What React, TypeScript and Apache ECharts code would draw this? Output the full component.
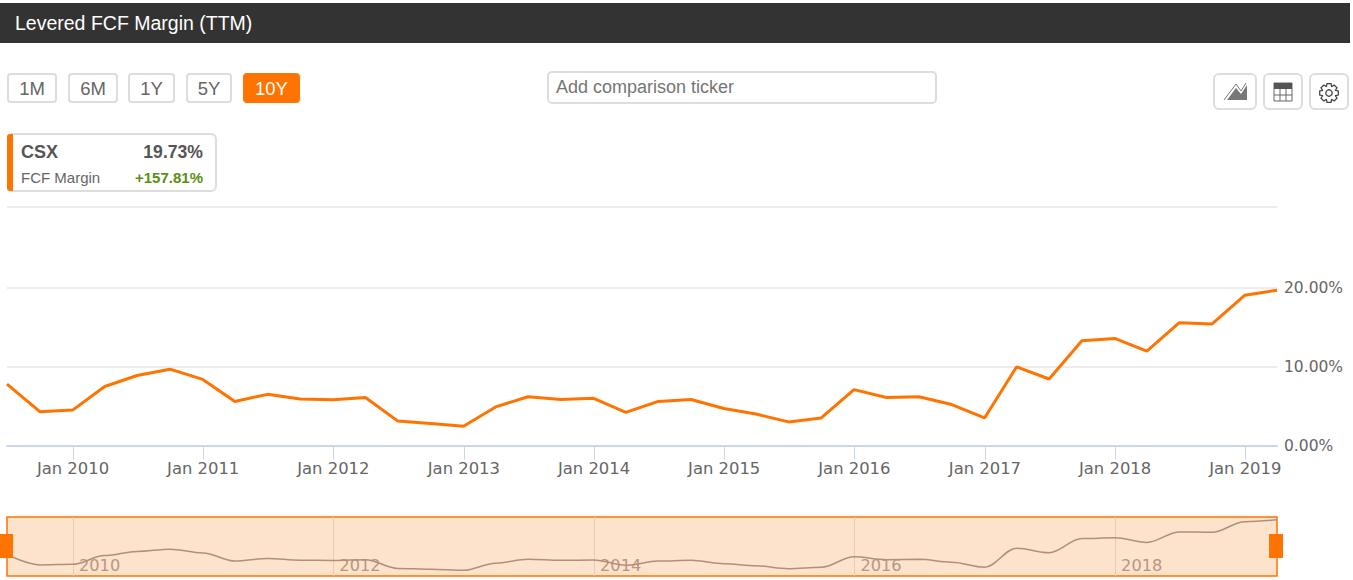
import React, { useEffect, useRef } from "react";
import * as echarts from "echarts";

const quarters = [
  "2009-06-30","2009-09-30","2009-12-31",
  "2010-03-31","2010-06-30","2010-09-30","2010-12-31",
  "2011-03-31","2011-06-30","2011-09-30","2011-12-31",
  "2012-03-31","2012-06-30","2012-09-30","2012-12-31",
  "2013-03-31","2013-06-30","2013-09-30","2013-12-31",
  "2014-03-31","2014-06-30","2014-09-30","2014-12-31",
  "2015-03-31","2015-06-30","2015-09-30","2015-12-31",
  "2016-03-31","2016-06-30","2016-09-30","2016-12-31",
  "2017-03-31","2017-06-30","2017-09-30","2017-12-31",
  "2018-03-31","2018-06-30","2018-09-30","2018-12-31",
  "2019-03-31",
];
const fcfMargin = [
  7.8,4.3,4.5,
  7.5,8.9,9.7,8.4,
  5.6,6.5,5.9,5.8,
  6.1,3.1,2.8,2.45,
  4.9,6.2,5.85,6.0,
  4.2,5.6,5.85,4.7,
  4.0,3.0,3.5,7.1,
  6.1,6.2,5.2,3.5,
  10.0,8.45,13.3,13.6,
  12.0,15.6,15.45,19.1,
  19.73,
];
const yearTicks = [2010,2011,2012,2013,2014,2015,2016,2017,2018,2019];
const navYearTicks = [2010,2012,2014,2016,2018];
const yLabelValues = [0,10,20];
const yLineValues = [0,10,20,30.37];
const rangeButtons = ["1M","6M","1Y","5Y","10Y"];
const buttonBoxes = [[7,50],[68,50],[128,47],[186,46],[243,57]];
const ORANGE = "#ff7300";

const jan1 = (y: number) => Date.UTC(y, 0, 1);
const ts = (s: string) => new Date(s + "T00:00:00Z").getTime();
const sans = "'Liberation Sans', Arial, sans-serif";
const axisFont = "'DejaVu Sans', sans-serif";

function gearPoints(cx: number, cy: number, teeth: number, ro: number, ri: number) {
  const pts: number[][] = [];
  const step = (Math.PI * 2) / teeth;
  for (let i = 0; i < teeth; i++) {
    const a = i * step;
    [[-0.3, ri], [-0.17, ro], [0.17, ro], [0.3, ri]].forEach(([o, r]) => {
      pts.push([cx + r * Math.cos(a + o * step * 1.6), cy + r * Math.sin(a + o * step * 1.6)]);
    });
  }
  return pts;
}

function buildGraphics() {
  const els: any[] = [];
  // title bar
  els.push({ type: "rect", shape: { x: 0, y: 3, width: 1350, height: 40 }, style: { fill: "#333333" } });
  els.push({ type: "text", x: 15, y: 23, style: { text: "Levered FCF Margin (TTM)", fill: "#ffffff", font: `19.5px ${sans}`, textVerticalAlign: "middle" } });
  // range buttons
  rangeButtons.forEach((b, i) => {
    const [x, w] = buttonBoxes[i];
    const active = b === "10Y";
    els.push({ type: "rect", shape: { x: x + 1, y: 74, width: w - 2, height: 28, r: 3 }, style: { fill: active ? ORANGE : "#fff", stroke: active ? ORANGE : "#dddddd", lineWidth: 2 } });
    els.push({ type: "text", x: x + w / 2, y: 88, style: { text: b, fill: active ? "#fff" : "#666666", font: `18.5px ${sans}`, textAlign: "center", textVerticalAlign: "middle" } });
  });
  // input
  els.push({ type: "rect", shape: { x: 548, y: 72, width: 388, height: 31, r: 4 }, style: { fill: "#fff", stroke: "#dddddd", lineWidth: 2 } });
  els.push({ type: "text", x: 556, y: 87, style: { text: "Add comparison ticker", fill: "#757575", font: `18px ${sans}`, textVerticalAlign: "middle" } });
  // tool buttons
  [[1214,42],[1264,38],[1310,38]].forEach(([x, w]) => {
    els.push({ type: "rect", shape: { x, y: 74, width: w, height: 35, r: 5 }, style: { fill: "#fff", stroke: "#dddddd", lineWidth: 2 } });
  });
  els.push({ type: "polygon", shape: { points: [[1227,100],[1236,88],[1241,94],[1247,85],[1247,100]] }, style: { fill: "#777777" } });
  els.push({ type: "polyline", shape: { points: [[1224,100],[1236,84],[1241,91],[1246,83]] }, style: { fill: "none", stroke: "#777777", lineWidth: 1 } });
  els.push({ type: "rect", shape: { x: 1274, y: 83, width: 18, height: 18 }, style: { fill: "#fff", stroke: "#666666", lineWidth: 1 } });
  els.push({ type: "rect", shape: { x: 1274, y: 83, width: 18, height: 6 }, style: { fill: "#555555" } });
  [1280, 1286].forEach((x) => els.push({ type: "line", shape: { x1: x, y1: 89, x2: x, y2: 101 }, style: { stroke: "#666666", lineWidth: 1 } }));
  [95].forEach((y) => els.push({ type: "line", shape: { x1: 1274, y1: y, x2: 1292, y2: y }, style: { stroke: "#666666", lineWidth: 1 } }));
  els.push({ type: "polygon", shape: { points: gearPoints(1329, 93, 8, 9.5, 7) }, style: { fill: "#fff", stroke: "#444444", lineWidth: 1.3 } });
  els.push({ type: "circle", shape: { cx: 1329, cy: 93, r: 3.2 }, style: { fill: "#fff", stroke: "#444444", lineWidth: 1.3 } });
  // value card
  els.push({ type: "rect", shape: { x: 8, y: 134, width: 208, height: 57, r: 5 }, style: { fill: "#fff", stroke: "#dddddd", lineWidth: 2 } });
  els.push({ type: "rect", shape: { x: 7, y: 134, width: 6, height: 57, r: [3,0,0,3] }, style: { fill: ORANGE } });
  els.push({ type: "text", x: 21, y: 152, style: { text: "CSX", fill: "#555555", font: `bold 18px ${sans}`, textVerticalAlign: "middle" } });
  els.push({ type: "text", x: 203, y: 152, style: { text: "19.73%", fill: "#555555", font: `bold 17.6px ${sans}`, textAlign: "right", textVerticalAlign: "middle" } });
  els.push({ type: "text", x: 21, y: 177.5, style: { text: "FCF Margin", fill: "#666666", font: `15px ${sans}`, textVerticalAlign: "middle" } });
  els.push({ type: "text", x: 203, y: 177.5, style: { text: "+157.81%", fill: "#5b8f12", font: `bold 15px ${sans}`, textAlign: "right", textVerticalAlign: "middle" } });
  // navigator handles
  els.push({ type: "rect", z: 20, shape: { x: 0, y: 534, width: 13, height: 24 }, style: { fill: ORANGE } });
  els.push({ type: "rect", z: 20, shape: { x: 1269, y: 534, width: 14, height: 24 }, style: { fill: ORANGE } });
  return els;
}

export default function App() {
  const ref = useRef<HTMLDivElement>(null);
  useEffect(() => {
    document.body.style.margin = "0";
    const chart = echarts.init(ref.current!, undefined, { renderer: "svg" });
    const seriesData = quarters.map((q, i) => [ts(q), fcfMargin[i]]);
    const xMin = ts(quarters[0]);
    const xMax = ts(quarters[quarters.length - 1]);
    chart.setOption({
      animation: false,
      backgroundColor: "#ffffff",
      grid: [
        { left: 7, right: 76, top: 206.5, height: 239 },
        { left: 7, right: 76, top: 517, height: 59, show: true, backgroundColor: "#fde2cc", borderColor: ORANGE, borderWidth: 1.5 },
      ],
      xAxis: [
        {
          type: "value", gridIndex: 0, min: xMin, max: xMax, scale: true,
          axisLine: { show: true, lineStyle: { color: "#ccd6eb", width: 2 } },
          axisTick: { show: true, length: 14, lineStyle: { color: "#ccd6eb", width: 1 }, customValues: yearTicks.map(jan1) },
          axisLabel: {
            customValues: yearTicks.map(jan1),
            formatter: (v: number) => `Jan ${new Date(v).getUTCFullYear()}`,
            color: "#666666", fontFamily: axisFont, fontSize: 16.4, margin: 15, hideOverlap: false,
          },
          splitLine: { show: false },
        },
        {
          type: "value", gridIndex: 1, min: xMin, max: xMax, scale: true,
          axisLine: { show: false },
          axisTick: { show: false, customValues: navYearTicks.map(jan1) },
          axisLabel: {
            inside: true, customValues: navYearTicks.map(jan1),
            formatter: (v: number) => `${new Date(v).getUTCFullYear()}`,
            color: "#b8977e", fontFamily: axisFont, fontSize: 16.2, margin: 3, align: "left", padding: [0, 0, 0, 6],
          },
          splitLine: { show: true, lineStyle: { color: "#e6cdb8", width: 1 } },
        },
      ],
      yAxis: [
        {
          type: "value", gridIndex: 0, position: "right", min: 0, max: 30.37,
          axisLine: { show: false },
          axisTick: { show: false, customValues: yLineValues },
          axisLabel: {
            customValues: yLabelValues,
            formatter: (v: number) => `${v.toFixed(2)}%`,
            color: "#666666", fontFamily: axisFont, fontSize: 15.5, margin: 7, padding: [0, 0, 4, 0],
          },
          splitLine: { show: true, lineStyle: { color: "#e6e6e6", width: 1.5 } },
        },
        {
          type: "value", gridIndex: 1, min: 0.5, max: 20.7,
          axisLine: { show: false }, axisTick: { show: false }, axisLabel: { show: false }, splitLine: { show: false },
        },
      ],
      series: [
        {
          name: "CSX", type: "line", xAxisIndex: 0, yAxisIndex: 0, data: seriesData,
          showSymbol: false, clip: false, lineStyle: { color: ORANGE, width: 3 }, itemStyle: { color: ORANGE },
        },
        {
          name: "CSX navigator", type: "line", xAxisIndex: 1, yAxisIndex: 1, data: seriesData,
          showSymbol: false, smooth: 0.35, smoothMonotone: "x", lineStyle: { color: "#b09078", width: 1.5 }, itemStyle: { color: "#b09078" },
        },
      ],
      graphic: { elements: buildGraphics() },
    });
    return () => chart.dispose();
  }, []);
  return <div ref={ref} style={{ position: "absolute", left: 0, top: 0, width: 1353, height: 580 }} />;
}
